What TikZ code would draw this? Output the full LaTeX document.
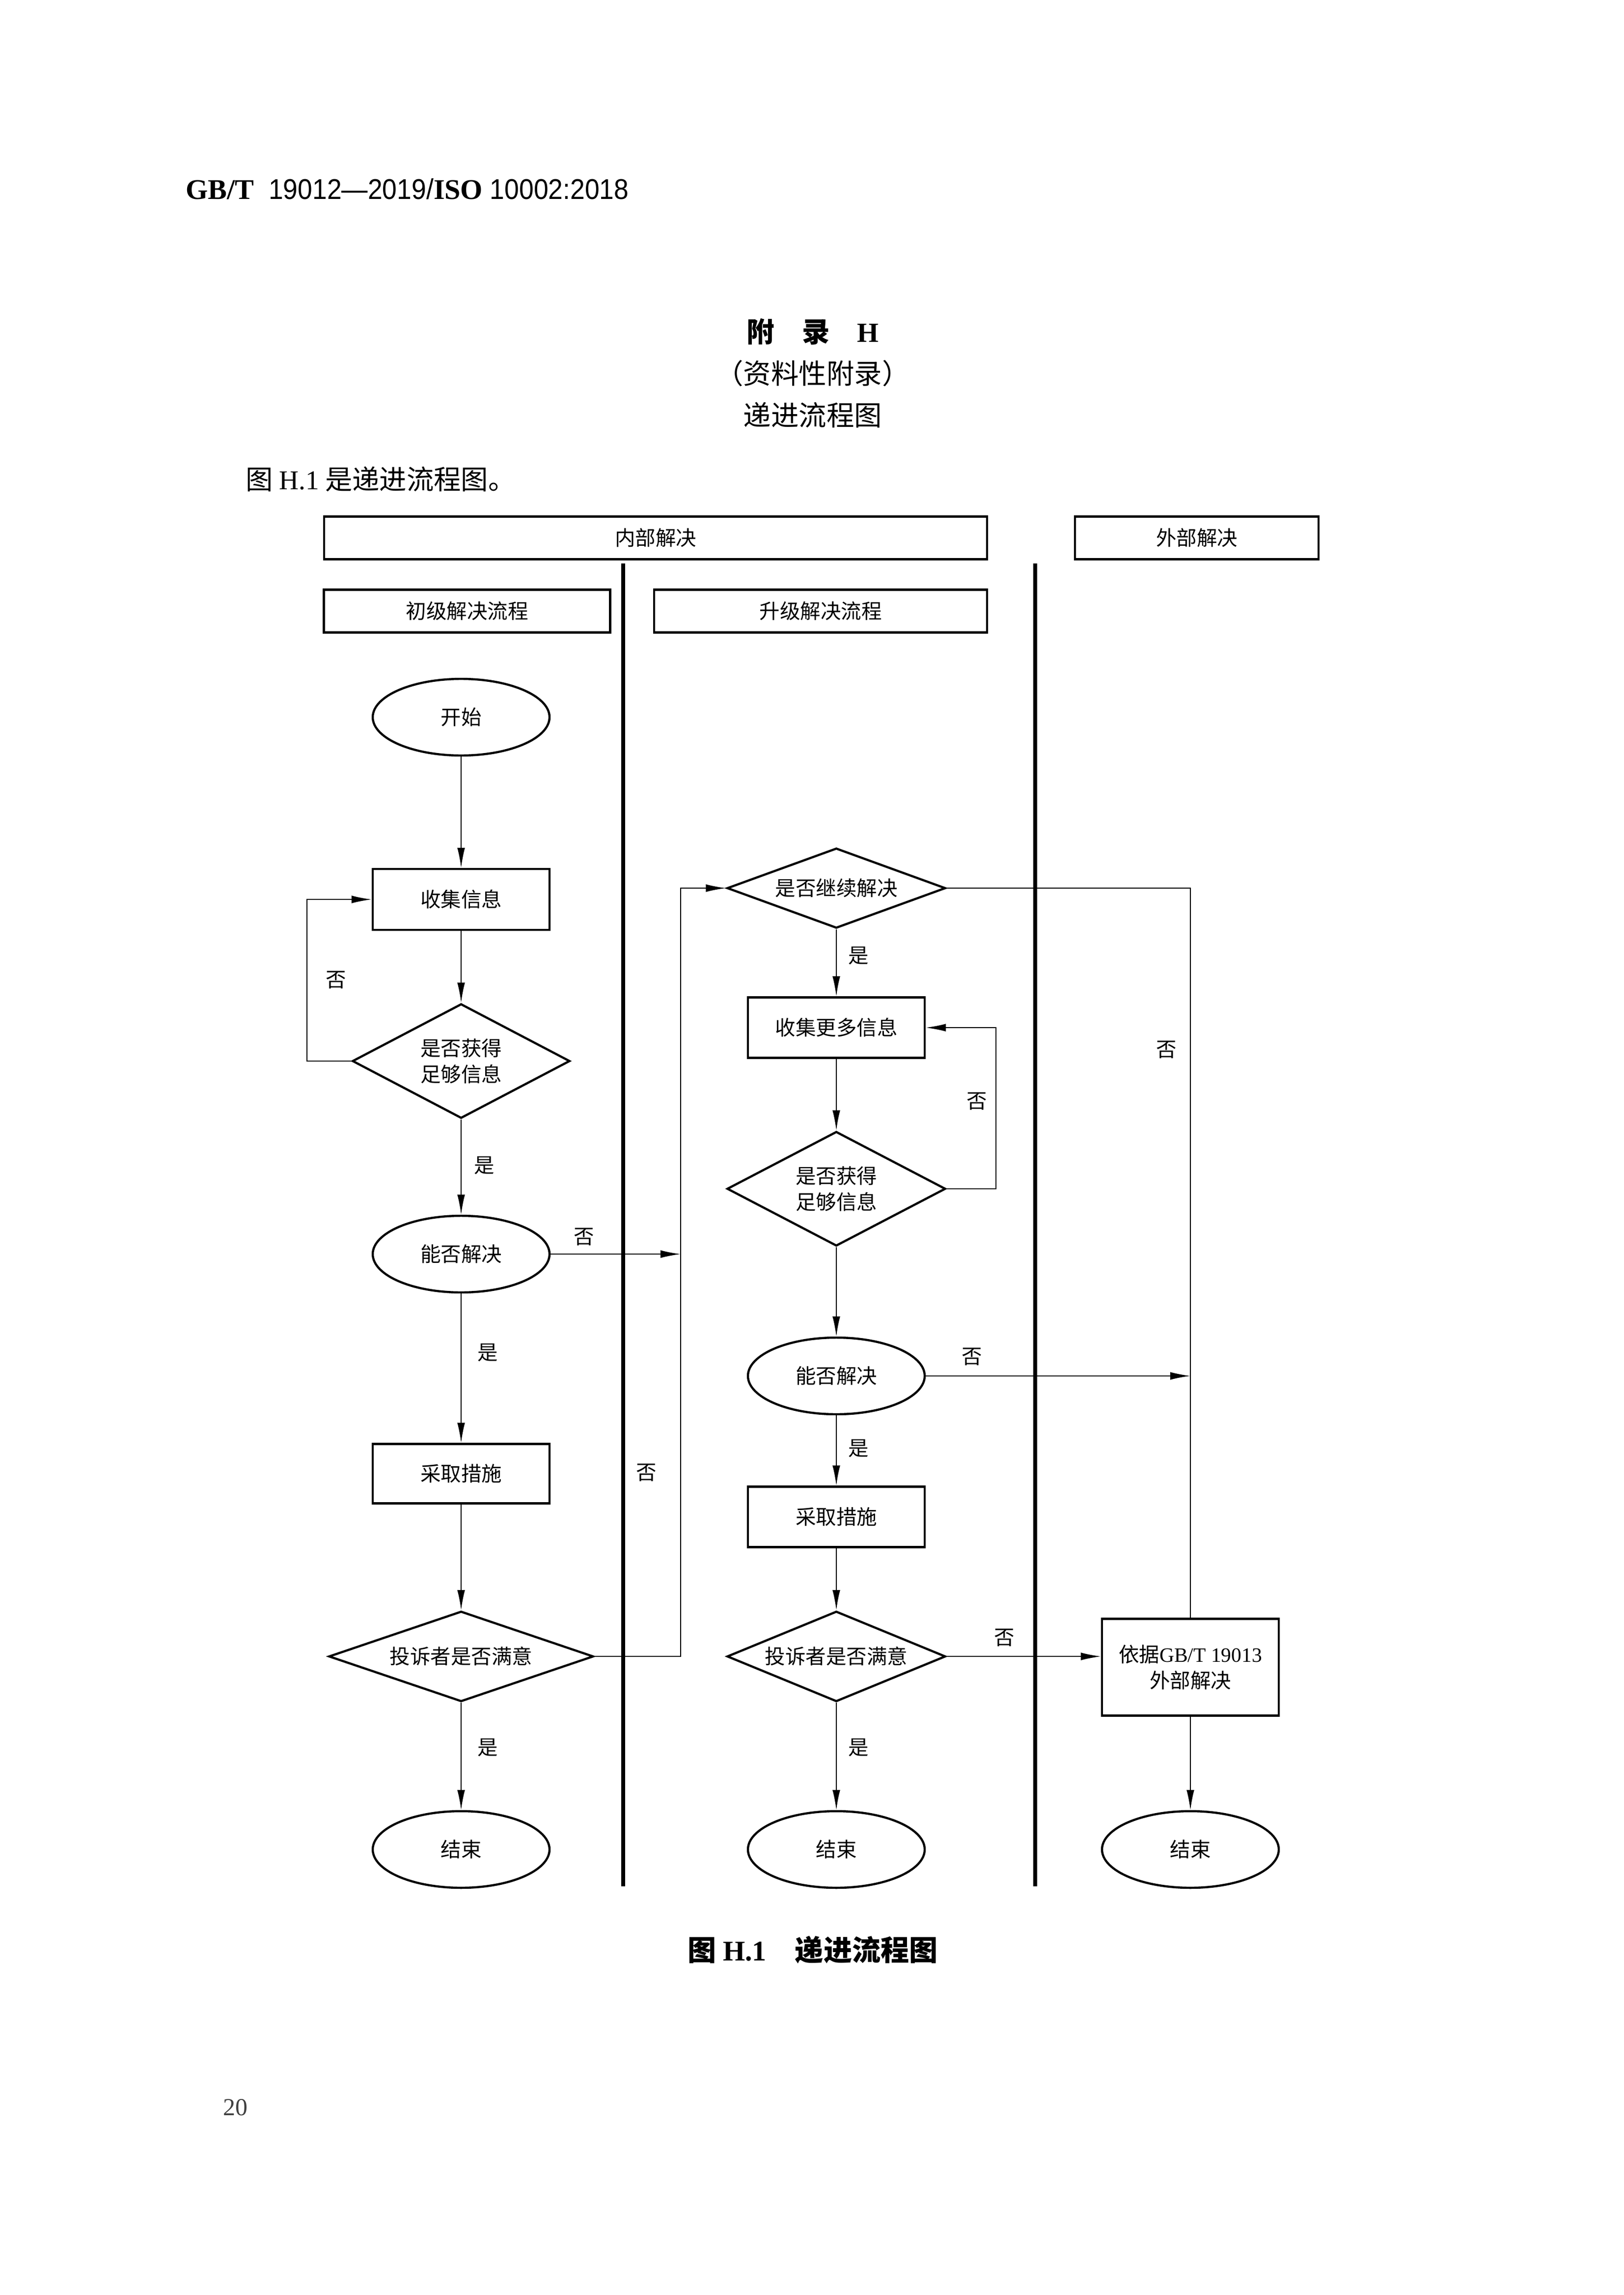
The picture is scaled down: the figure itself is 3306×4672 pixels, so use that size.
\documentclass[tikz,border=0pt]{standalone}
\usepackage{fontspec}
\setmainfont{Liberation Serif}
\newfontfamily\cjk{Noto Sans CJK SC}
\newfontfamily\digits[FakeStretch=0.92]{Liberation Sans}
\usetikzlibrary{shapes.geometric, arrows.meta, positioning}
\newlength\px
\setlength\px{0.06352mm}

\begin{document}
\begin{tikzpicture}[
  x=0.06352mm, y=-0.06352mm,
  every node/.style={inner sep=1pt},
  chart/.style={font=\cjk\fontsize{7.5}{9.5}\selectfont, align=center},
  lanehead/.style={chart, draw, line width=0.8pt, minimum height=87\px},
  box/.style={chart, draw, line width=0.8pt, minimum width=360\px, minimum height=123\px},
  oval/.style={chart, ellipse, draw, line width=0.8pt, minimum width=360\px, minimum height=156\px},
  choice/.style={chart, diamond, draw, line width=0.8pt, inner sep=0pt, aspect=2},
  flow/.style={line width=0.4pt, -{Latex[length=2.6mm,width=1mm]}},
  line/.style={line width=0.4pt},
  lane/.style={line width=1.4pt},
  answer/.style={chart}]

  \fill[white] (0,0) rectangle (3306,4672);
  \useasboundingbox (0,0) rectangle (3306,4672);

  % page head and titles
  \node[anchor=west, font=\digits\fontsize{10.5}{12}\selectfont] (header) at (372,385)
    {{\rmfamily\bfseries GB/T}\ \ 19012—2019/{\rmfamily\bfseries ISO} 10002:2018};
  \node[font=\cjk\bfseries\fontsize{10.2}{12}\selectfont] (annex) at (1655,675)
    {附\hspace{1em}录\hspace{1em}{\rmfamily H}};
  \node[font=\cjk\fontsize{10.2}{12}\selectfont] (kind) at (1655,760) {（资料性附录）};
  \node[font=\cjk\fontsize{10.2}{12}\selectfont] (title) at (1655,845) {递进流程图};
  \node[anchor=west, font=\cjk\fontsize{10}{12}\selectfont] (intro) at (494,975)
    {图 {\rmfamily H.1} 是递进流程图。};

  % lane heads
  \node[lanehead, minimum width=1350\px] (internal) at (1335,1095) {内部解决};
  \node[lanehead, minimum width=496\px] (outside) at (2437,1095) {外部解决};
  \node[lanehead, minimum width=583\px] (primary) at (951,1244) {初级解决流程};
  \node[lanehead, minimum width=678\px] (escalated) at (1671,1244) {升级解决流程};
  \draw[lane] (1269,1147) -- (1269,3840);
  \draw[lane] (2108,1147) -- (2108,3840);

  % primary flow
  \node[oval] (start) at (939,1460) {开始};
  \node[box, minimum height=124\px] (collect) at (939,1831) {收集信息};
  \node[choice, minimum width=443\px, minimum height=233\px] (enough) at (939,2160) {是否获得\\足够信息};
  \node[oval] (solve) at (939,2553) {能否解决};
  \node[box, minimum height=121\px] (act) at (939,3000) {采取措施};
  \node[choice, minimum width=539\px, minimum height=156\px] (satisfied) at (939,3372) {投诉者是否满意};
  \node[oval] (finish) at (939,3765) {结束};

  % escalated flow
  \node[choice, minimum width=445\px, minimum height=157\px] (goon) at (1703,1808) {是否继续解决};
  \node[box] (collectmore) at (1703,2092) {收集更多信息};
  \node[choice, minimum width=445\px, minimum height=233\px] (enoughmore) at (1703,2420) {是否获得\\足够信息};
  \node[oval] (solvemore) at (1703,2801) {能否解决};
  \node[box] (actmore) at (1703,3088) {采取措施};
  \node[choice, minimum width=445\px, minimum height=156\px] (satisfiedmore) at (1703,3372) {投诉者是否满意};
  \node[oval] (finishmore) at (1703,3765) {结束};

  % external flow
  \node[box, minimum height=197\px] (external) at (2424,3394)
    {依据{\rmfamily GB/T 19013}\\外部解决};
  \node[oval] (finishext) at (2424,3765) {结束};

  \coordinate (bypass) at (1386,0);
  \coordinate (loopleft) at (625,0);
  \coordinate (loopright) at (2028,0);

  % connectors
  \draw[flow] (start) -- (collect);
  \draw[flow] (collect) -- (enough);
  \draw[flow] (enough.west) -- (enough.west -| loopleft) |- (collect.west);
  \draw[flow] (enough) -- (solve);
  \draw[flow] (solve) -- (act);
  \draw[flow] (solve.east) -- (solve.east -| bypass);
  \draw[flow] (act) -- (satisfied);
  \draw[flow] (satisfied) -- (finish);
  \draw[flow] (satisfied.east) -- (satisfied.east -| bypass) |- (goon.west);

  \draw[flow] (goon) -- (collectmore);
  \draw[flow] (collectmore) -- (enoughmore);
  \draw[flow] (enoughmore.east) -- (enoughmore.east -| loopright) |- (collectmore.east);
  \draw[flow] (enoughmore) -- (solvemore);
  \draw[flow] (solvemore) -- (actmore);
  \draw[flow] (solvemore.east) -- (solvemore.east -| external.north);
  \draw[flow] (actmore) -- (satisfiedmore);
  \draw[flow] (satisfiedmore) -- (finishmore);
  \draw[flow] (satisfiedmore.east) -- (external.west |- satisfiedmore.east);
  \draw[line] (goon.east) -| (external.north);
  \draw[flow] (external) -- (finishext);

  % answers
  \node[answer] (no1) at (684,1995) {否};
  \node[answer] (yes1) at (986,2373) {是};
  \node[answer] (no2) at (1189,2518) {否};
  \node[answer] (yes2) at (993,2754) {是};
  \node[answer] (no3) at (1316,2998) {否};
  \node[answer] (yes3) at (993,3558) {是};
  \node[answer] (yes4) at (1748,1946) {是};
  \node[answer] (no4) at (1989,2242) {否};
  \node[answer] (no5) at (1979,2762) {否};
  \node[answer] (yes5) at (1748,2949) {是};
  \node[answer] (no6) at (2045,3334) {否};
  \node[answer] (yes6) at (1748,3558) {是};
  \node[answer] (no7) at (2375,2137) {否};

  % caption and page number
  \node[font=\cjk\bfseries\fontsize{10.5}{12}\selectfont] (caption) at (1655,3969)
    {图 {\rmfamily H.1}\hspace{1em}递进流程图};
  \node[anchor=west, font=\rmfamily\fontsize{9}{10}\selectfont, text=black!75] (page) at (448,4290) {20};
\end{tikzpicture}
\end{document}
